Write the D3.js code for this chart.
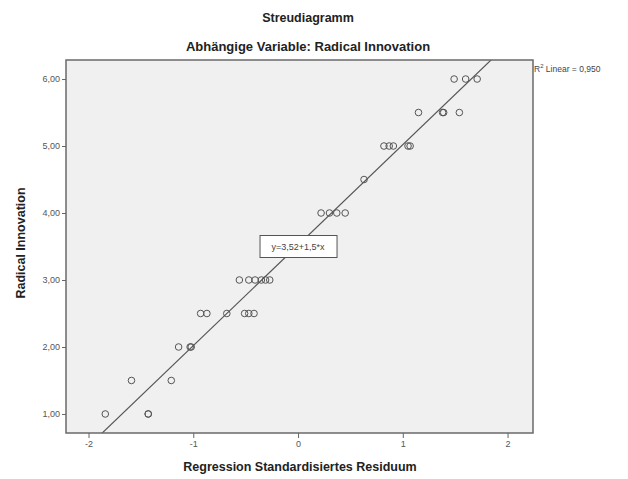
<!DOCTYPE html>
<html>
<head>
<meta charset="utf-8">
<script src="https://cdn.jsdelivr.net/npm/d3@7"></script>
<style>
  body { margin: 0; background: #fff; font-family: "Liberation Sans", Arial, sans-serif; }
  .axis text { fill: #555; font-size: 9px; }
  .axis path { display: none; }
  .axis line { stroke: #666; }
</style>
</head>
<body>
<div id="chart"></div>
<script>
// values
var residuals = [
  -1.84, -1.43, -1.43,
  -1.59, -1.21,
  -1.14, -1.03, -1.02,
  -0.93, -0.87, -0.68, -0.51, -0.47, -0.42,
  -0.56, -0.47, -0.41, -0.35, -0.31, -0.27,
  0.22, 0.30, 0.37, 0.45,
  0.63,
  0.82, 0.87, 0.91, 1.05, 1.07,
  1.15, 1.38, 1.39, 1.54,
  1.49, 1.60, 1.71
];
var radicalInnovation = [
  1, 1, 1,
  1.5, 1.5,
  2, 2, 2,
  2.5, 2.5, 2.5, 2.5, 2.5, 2.5,
  3, 3, 3, 3, 3, 3,
  4, 4, 4, 4,
  4.5,
  5, 5, 5, 5, 5,
  5.5, 5.5, 5.5, 5.5,
  6, 6, 6
];
var xTicks = [-2, -1, 0, 1, 2];
var yTicks = [1, 2, 3, 4, 5, 6];
var intercept = 3.52, slope = 1.5;
var rSquared = "0,950";

var drawChart = function() {
  var W = 628, H = 479;
  var margin = { top: 60, right: 95, bottom: 46, left: 66 },
      width = W - margin.left - margin.right,
      height = H - margin.top - margin.bottom;

  var data = residuals.map(function(r, i) { return { x: r, y: radicalInnovation[i] }; });

  var x = d3.scaleLinear()
            .domain([-2.215, 2.243])
            .range([0, width]);

  var y = d3.scaleLinear()
            .domain([0.716, 6.284])
            .range([height, 0]);

  var svg = d3.select("#chart").append("svg")
              .attr("width", W)
              .attr("height", H)
              .append("g")
              .attr("transform", "translate(" + margin.left + "," + margin.top + ")");

  svg.append("clipPath").attr("id", "clip")
    .append("rect").attr("width", width).attr("height", height);

  svg.append("rect")
    .attr("width", width)
    .attr("height", height)
    .attr("fill", "#f0f0f0");

  // regression line
  var x0 = x.domain()[0], x1 = x.domain()[1];
  svg.append("line")
    .attr("clip-path", "url(#clip)")
    .attr("x1", x(x0)).attr("y1", y(intercept + slope * x0))
    .attr("x2", x(x1)).attr("y2", y(intercept + slope * x1))
    .attr("stroke", "#555")
    .attr("stroke-width", 1.2);

  svg.selectAll("circle.pt")
    .data(data)
    .enter().append("circle")
    .attr("class", "pt")
    .attr("cx", function(d) { return x(d.x); })
    .attr("cy", function(d) { return y(d.y); })
    .attr("r", 3.3)
    .attr("fill", "none")
    .attr("stroke", "#555")
    .attr("stroke-width", 1);

  // plot frame
  svg.append("rect")
    .attr("width", width)
    .attr("height", height)
    .attr("fill", "none")
    .attr("stroke", "#6a6a6a")
    .attr("stroke-width", 1.5);

  svg.append("g")
    .attr("class", "x axis")
    .attr("transform", "translate(0," + height + ")")
    .call(d3.axisBottom(x).tickValues(xTicks).tickSize(5).tickPadding(3)
            .tickFormat(function(d) { return d < 0 ? "-" + Math.abs(d) : d; }));

  svg.append("g")
    .attr("class", "y axis")
    .call(d3.axisLeft(y).tickValues(yTicks).tickSize(4).tickPadding(2)
            .tickFormat(function(d) { return d3.format(".2f")(d).replace(".", ","); }));

  // equation label
  var lbl = svg.append("g")
    .attr("transform", "translate(" + x(0) + "," + y(3.5) + ")");
  lbl.append("rect")
    .attr("x", -38).attr("y", -11)
    .attr("width", 77).attr("height", 22)
    .attr("fill", "#fff")
    .attr("stroke", "#555");
  lbl.append("text")
    .attr("text-anchor", "middle")
    .attr("dy", "0.35em")
    .style("font-size", "9px")
    .attr("fill", "#444")
    .text("y=3,52+1,5*x");

  // R² label
  var r2 = svg.append("text")
    .attr("x", width + 1)
    .attr("y", 12)
    .style("font-size", "8.5px")
    .attr("fill", "#444");
  r2.append("tspan").text("R");
  r2.append("tspan").attr("dy", -4).style("font-size", "6px").text("2");
  r2.append("tspan").attr("dy", 4).text(" Linear = " + rSquared);

  // titles
  svg.append("text")
    .style("text-anchor", "middle")
    .style("font-weight", "bold")
    .style("font-size", "12.5px")
    .attr("fill", "#222")
    .attr("x", 308 - margin.left)
    .attr("y", 22 - margin.top)
    .text("Streudiagramm");

  svg.append("text")
    .style("text-anchor", "middle")
    .style("font-weight", "bold")
    .style("font-size", "13px")
    .attr("fill", "#222")
    .attr("x", 308 - margin.left)
    .attr("y", 51 - margin.top)
    .text("Abhängige Variable: Radical Innovation");

  // x axis label
  svg.append("text")
    .style("text-anchor", "middle")
    .style("font-weight", "bold")
    .style("font-size", "12.5px")
    .attr("fill", "#222")
    .attr("x", 300 - margin.left)
    .attr("y", height + 38)
    .text("Regression Standardisiertes Residuum");

  // y axis label
  svg.append("text")
    .style("text-anchor", "middle")
    .style("font-weight", "bold")
    .style("font-size", "12.5px")
    .attr("fill", "#222")
    .attr("transform", "translate(" + (25 - margin.left) + "," + (243 - margin.top) + ") rotate(-90)")
    .text("Radical Innovation");
};

drawChart();
</script>
</body>
</html>
